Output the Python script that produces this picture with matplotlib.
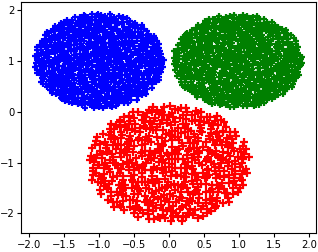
import numpy as np
import matplotlib
matplotlib.use("Agg")
import matplotlib.pyplot as plt

# cluster layout
cluster_names = ["blue", "green", "red"]
centers_x = [-1.0, 0.98, 0.0]
centers_y = [1.0, 1.0, -1.02]
radii_x = [0.93, 0.93, 1.16]
radii_y = [0.94, 0.92, 1.15]
counts = [900, 900, 560]
colors = ["blue", "green", "red"]
marker_sizes = [4.5, 4.5, 5.5]
sequence_starts = [700, 2100, 1]


def halton(start, n, base):
    # deterministic low-discrepancy sequence
    out = np.zeros(n)
    for i in range(n):
        f, r, k = 1.0, 0.0, start + i
        while k > 0:
            f /= base
            r += f * (k % base)
            k //= base
        out[i] = r
    return out


fig = plt.figure(figsize=(3.18, 2.52), dpi=100)
ax = fig.add_axes([0.067, 0.075, 0.927, 0.917])

for i in range(len(cluster_names)):
    u = halton(sequence_starts[i], counts[i], 2)
    v = halton(sequence_starts[i], counts[i], 3)
    r = np.sqrt(u)
    t = 2 * np.pi * v
    x = centers_x[i] + radii_x[i] * r * np.cos(t)
    y = centers_y[i] + radii_y[i] * r * np.sin(t)
    ax.plot(x, y, "+", color=colors[i], markersize=marker_sizes[i], markeredgewidth=1.6)

ax.set_xlim(-2.11, 2.1)
ax.set_ylim(-2.39, 2.16)
ax.set_xticks([-2.0, -1.5, -1.0, -0.5, 0.0, 0.5, 1.0, 1.5, 2.0])
ax.set_yticks([-2, -1, 0, 1, 2])
ax.tick_params(labelsize=7.2, length=3, pad=2)

plt.savefig("out.png")
